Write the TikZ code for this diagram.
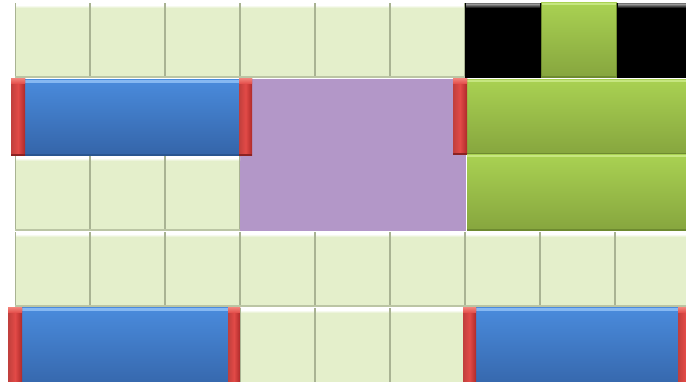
\documentclass[tikz,border=0pt]{standalone}
\usetikzlibrary{calc}
\definecolor{tileface}{HTML}{E4EFCB}
\definecolor{tileedge}{HTML}{A9B393}
\definecolor{bluetop}{HTML}{4A8BDC}
\definecolor{bluebot}{HTML}{3464A8}
\definecolor{bluelight}{HTML}{86B8F2}
\definecolor{blueedge}{HTML}{2A5590}
\definecolor{greentop}{HTML}{A9D152}
\definecolor{greenbot}{HTML}{86A53E}
\definecolor{greenlight}{HTML}{C6E680}
\definecolor{greenedge}{HTML}{6E8A30}
\definecolor{redl}{HTML}{E24A47}
\definecolor{redd}{HTML}{AE2A2A}
\definecolor{redlight}{HTML}{F07A72}
\definecolor{purple}{HTML}{B397C8}
\tikzset{
  x=1pt, y=-1pt,
  % bevelled face: #1 face, #2 top highlight, #3 shadow edge
  bevel/.style n args={3}{
    fill=#1,
    path picture={
      \path (path picture bounding box.north west) coordinate (pa)
            (path picture bounding box.south east) coordinate (pb);
      \fill[#2] (pa) rectangle ([yshift=-2pt]pa -| pb);
      \shade[top color=#2, bottom color=#1] ([yshift=-2pt]pa) rectangle ([yshift=-5pt]pa -| pb);
      \fill[#3] (pa) rectangle ([xshift=1.2pt]pa |- pb);
      \fill[#3] ([xshift=-1.5pt]pb |- pa) rectangle (pb);
      \fill[#3!70!#1] ([yshift=1.5pt]pa |- pb) rectangle (pb);
    }},
  tilebox/.style={bevel={tileface}{white}{tileedge}},
  blackbox/.style={bevel={black}{black!55}{black}},
  greentile/.style={
    top color=greentop, bottom color=greenbot,
    path picture={
      \path (path picture bounding box.north west) coordinate (pa)
            (path picture bounding box.south east) coordinate (pb);
      \fill[greenlight] (pa) rectangle ([yshift=-2.5pt]pa -| pb);
      \fill[greenedge] (pa) rectangle ([xshift=1.2pt]pa |- pb);
      \fill[greenedge] ([xshift=-1.5pt]pb |- pa) rectangle (pb);
      \fill[greenedge] ([yshift=1.5pt]pa |- pb) rectangle (pb);
    }},
  greenbar/.style={
    top color=greentop, bottom color=greenbot,
    path picture={
      \path (path picture bounding box.north west) coordinate (pa)
            (path picture bounding box.south east) coordinate (pb);
      \fill[greenlight] (pa) rectangle ([yshift=-2.5pt]pa -| pb);
      \fill[greenedge] ([yshift=2pt]pa |- pb) rectangle (pb);
    }},
  bluebar/.style={
    top color=bluetop, bottom color=bluebot,
    path picture={
      \path (path picture bounding box.north west) coordinate (pa)
            (path picture bounding box.south east) coordinate (pb);
      \fill[bluelight] (pa) rectangle ([yshift=-3pt]pa -| pb);
      \fill[blueedge] ([yshift=2pt]pa |- pb) rectangle (pb);
    }},
  redcap/.style={
    left color=redl!85!black, right color=redd, middle color=redl,
    path picture={
      \path (path picture bounding box.north west) coordinate (pa)
            (path picture bounding box.south east) coordinate (pb);
      \shade[top color=redlight, bottom color=redl] (pa) rectangle ([yshift=-5pt]pa -| pb);
      \fill[redd!80!black] ([yshift=2pt]pa |- pb) rectangle (pb);
    }},
  purplearea/.style={fill=purple},
}
\begin{document}
\begin{tikzpicture}
\useasboundingbox (0,0) rectangle (686,382);
\clip (0,0) rectangle (686,382);
\fill[white] (0,0) rectangle (686,382);

% purple block spanning the second and third rows
\path[purplearea] (240,79) rectangle (466,231);

% first row
\foreach \x in {15,90,165,240,315,390}
  \path[tilebox] (\x,3) rectangle ++(75,75);
\path[blackbox] (465,3) rectangle (541,78);
\path[greentile] (541,3) rectangle (617,78);
\path[blackbox] (617,3) rectangle (692,78);

% second row
\path[bluebar] (25,80) rectangle (239,156);
\path[redcap] (11,79) rectangle (25,156);
\path[redcap] (239,79) rectangle (252,156);
\path[greenbar] (467,80) rectangle (692,155);
\path[redcap] (453,79) rectangle (467,155);

% third row
\foreach \x in {15,90,165}
  \path[tilebox] (\x,156) rectangle ++(75,75);
\path[greenbar] (467,155) rectangle (692,231);

% fourth row
\foreach \x in {15,90,165,240,315,390,465,540,615}
  \path[tilebox] (\x,232) rectangle ++(75,75);

% fifth row
\path[bluebar] (22,308) rectangle (228,392);
\path[redcap] (8,308) rectangle (22,392);
\path[redcap] (228,308) rectangle (240,392);
\foreach \x in {240,315,390}
  \path[tilebox] (\x,308) rectangle ++(75,75);
\path[bluebar] (476,308) rectangle (678,392);
\path[redcap] (463,308) rectangle (476,392);
\path[redcap] (678,308) rectangle (692,392);
\end{tikzpicture}
\end{document}
